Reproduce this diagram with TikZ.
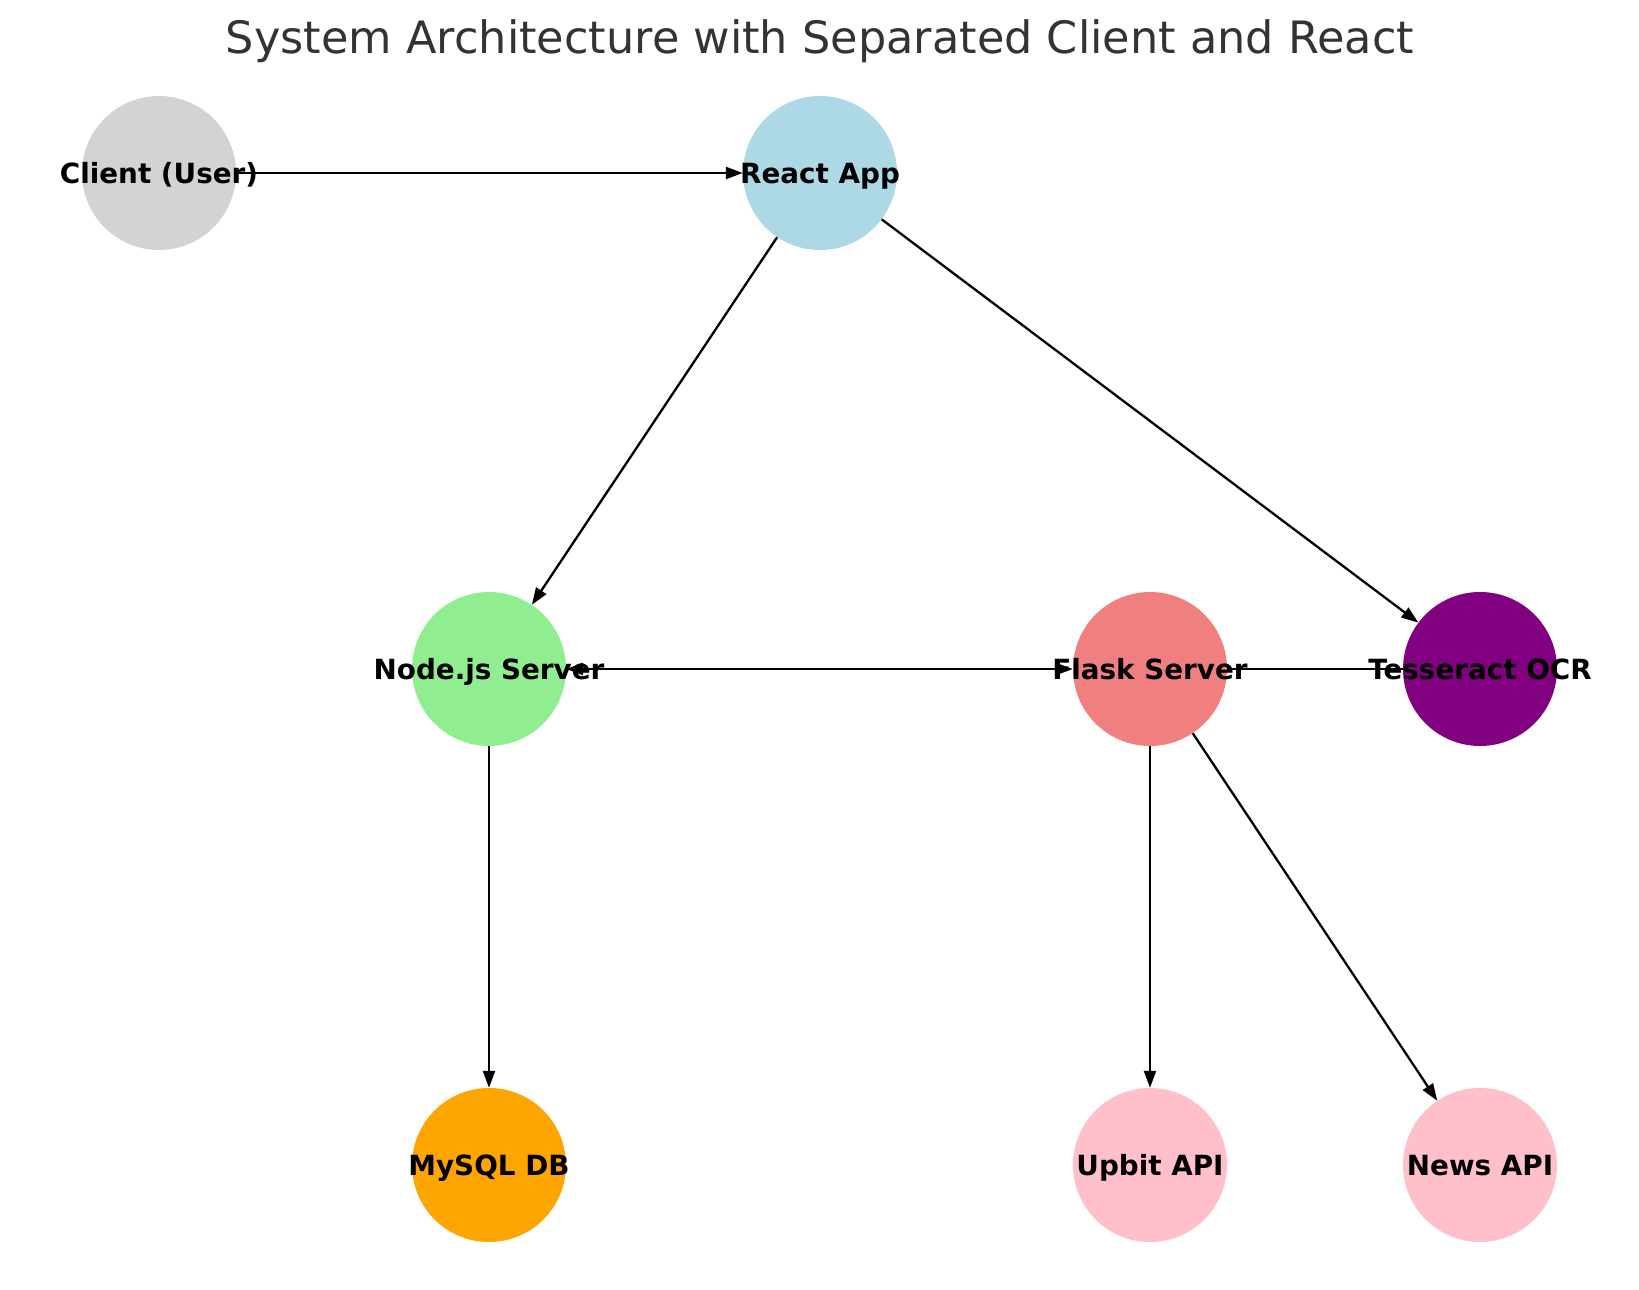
\documentclass[tikz,border=0pt]{standalone}
\usepackage{fontspec}
\setmainfont{DejaVu Sans}
\usetikzlibrary{arrows.meta}
\definecolor{titlegray}{RGB}{51,51,51}
\definecolor{clientgray}{HTML}{D3D3D3}
\definecolor{reactblue}{HTML}{ADD8E6}
\definecolor{nodegreen}{HTML}{90EE90}
\definecolor{flaskred}{HTML}{F08080}
\definecolor{ocrpurple}{HTML}{800080}
\definecolor{dborange}{HTML}{FFA500}
\definecolor{apipink}{HTML}{FFC0CB}
\newcommand{\lbl}[1]{\makebox[0pt]{#1}}
\begin{document}
\begin{tikzpicture}[x=1pt,y=-1pt,
 svc/.style={circle,minimum size=154pt,inner sep=0pt,text height=20pt,text depth=0pt,font=\fontsize{27.8}{30}\selectfont\bfseries},
 link/.style={line width=2.3pt,-{Triangle[length=17pt,width=12pt]}}]
 \useasboundingbox (0,0) rectangle (1639,1290);
 \node[anchor=base,text=titlegray,font=\fontsize{44.6}{50}\selectfont] (title) at (820,54) {System Architecture with Separated Client and React};
 \node[svc,fill=clientgray] (client) at (159,173) {\lbl{Client (User)}};
 \node[svc,fill=reactblue] (react) at (820,173) {\lbl{React App}};
 \node[svc,fill=nodegreen] (nodejs) at (489,669) {\lbl{Node.js Server}};
 \node[svc,fill=flaskred] (flask) at (1150,669) {\lbl{Flask Server}};
 \node[svc,fill=ocrpurple] (ocr) at (1480,669) {\lbl{Tesseract OCR}};
 \node[svc,fill=dborange] (mysql) at (489,1165) {\lbl{MySQL DB}};
 \node[svc,fill=apipink] (upbit) at (1150,1165) {\lbl{Upbit API}};
 \node[svc,fill=apipink] (news) at (1480,1165) {\lbl{News API}};
 \draw[link] (client) -- (react);
 \draw[link] (react) -- (nodejs);
 \draw[link] (react) -- (ocr);
 \draw[link,{Triangle[length=17pt,width=12pt]}-{Triangle[length=17pt,width=12pt]}] (nodejs) -- (flask);
 \draw[line width=2.3pt] (flask) -- (ocr);
 \draw[link] (nodejs) -- (mysql);
 \draw[link] (flask) -- (upbit);
 \draw[link] (flask) -- (news);
\end{tikzpicture}
\end{document}
